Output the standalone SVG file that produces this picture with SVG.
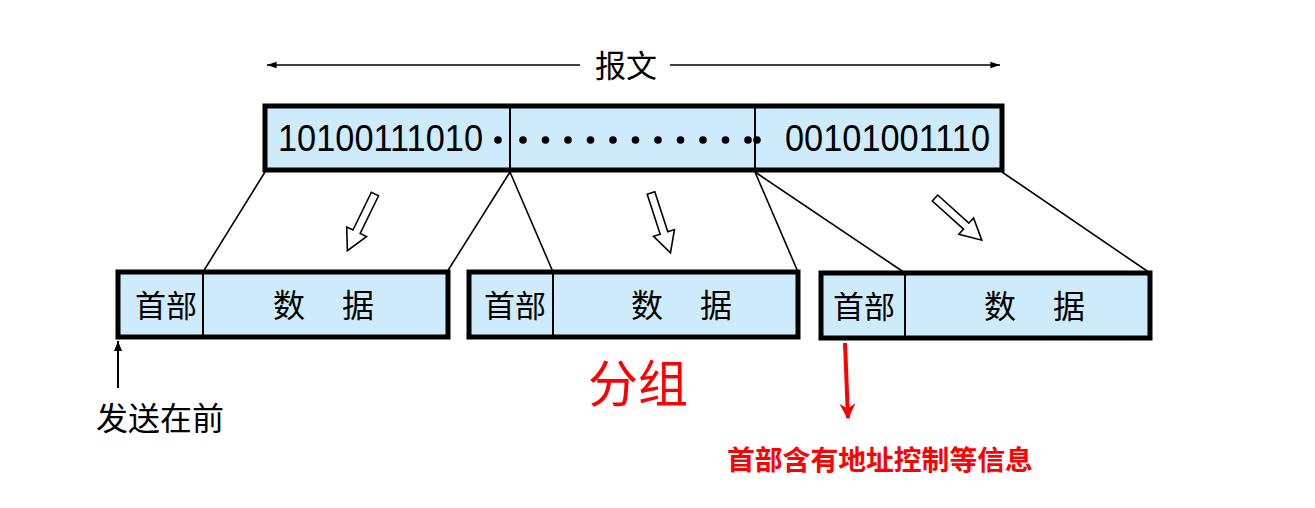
<svg xmlns="http://www.w3.org/2000/svg" width="1315" height="508" viewBox="0 0 1315 508">
<defs>
<style>
.box{fill:#CDEBFB;stroke:#000;stroke-width:5}
.div{stroke:#000;stroke-width:2;fill:none}
.ln{stroke:#000;stroke-width:1.6;fill:none}
.cjk{font-family:"Noto Sans CJK SC","Noto Sans",sans-serif;fill:#000}
.num{font-family:"Liberation Sans","Noto Sans",sans-serif;fill:#000}
.hollow{fill:#fff;stroke:#000;stroke-width:1.6;stroke-linejoin:miter}
</style>
<marker id="ah" viewBox="0 0 10 10" refX="10" refY="5" markerWidth="10" markerHeight="12" markerUnits="userSpaceOnUse" orient="auto-start-reverse"><path d="M0,1 L10,5 L0,9 Z" fill="#000"/></marker>
<marker id="ahs" viewBox="0 0 12 10" refX="12" refY="5" markerWidth="18" markerHeight="8" markerUnits="userSpaceOnUse" orient="auto-start-reverse"><path d="M0,1 L12,5 L0,9 Z" fill="#000"/></marker>
<marker id="ahr" viewBox="0 0 10 10" refX="9" refY="5" markerWidth="16" markerHeight="16" markerUnits="userSpaceOnUse" orient="auto"><path d="M0,0 L10,5 L0,10 L3,5 Z" fill="#f00"/></marker>
<path id="harrow" d="M0,-4 L42,-4 L42,-11 L63,0 L42,11 L42,4 L0,4 Z"/>
</defs>
<rect width="1315" height="508" fill="#fff"/>

<g id="message-span">
<line x1="267" y1="65" x2="580" y2="65" class="ln" marker-start="url(#ahs)"/>
<line x1="670" y1="65" x2="1000" y2="65" class="ln" marker-end="url(#ahs)"/>
<text x="626" y="77" class="cjk" font-size="31" text-anchor="middle">报文</text>
</g>

<g id="message">
<rect x="265" y="106" width="737" height="64" class="box"/>
<line x1="510" y1="106" x2="510" y2="170" class="div"/>
<line x1="755" y1="106" x2="755" y2="170" class="div"/>
<text x="278" y="151" class="num" font-size="37" textLength="205" lengthAdjust="spacingAndGlyphs">10100111010</text>
<text x="785" y="151" class="num" font-size="37" textLength="205" lengthAdjust="spacingAndGlyphs">00101001110</text>
<g fill="#000">
<circle cx="498" cy="140" r="3.8"/>
<circle cx="523" cy="140" r="3.8"/><circle cx="545.5" cy="140" r="3.8"/><circle cx="568" cy="140" r="3.8"/><circle cx="590.5" cy="140" r="3.8"/><circle cx="613" cy="140" r="3.8"/><circle cx="635.5" cy="140" r="3.8"/><circle cx="658" cy="140" r="3.8"/><circle cx="680.5" cy="140" r="3.8"/><circle cx="703" cy="140" r="3.8"/><circle cx="725.5" cy="140" r="3.8"/><circle cx="748" cy="140" r="3.8"/>
<circle cx="757" cy="140" r="3.8"/>
</g>
</g>

<g id="connectors">
<line x1="265" y1="172" x2="203" y2="272" class="ln"/>
<line x1="510" y1="172" x2="447" y2="272" class="ln"/>
<line x1="510" y1="172" x2="553" y2="272" class="ln"/>
<line x1="755" y1="172" x2="798" y2="272" class="ln"/>
<line x1="755" y1="172" x2="905" y2="273" class="ln"/>
<line x1="1002" y1="172" x2="1150" y2="273" class="ln"/>
<use href="#harrow" class="hollow" transform="translate(375,194) rotate(116)"/>
<use href="#harrow" class="hollow" transform="translate(651,193) rotate(72)"/>
<use href="#harrow" class="hollow" transform="translate(935,198) rotate(42)"/>
<line x1="118" y1="388" x2="118" y2="341" stroke="#000" stroke-width="2" marker-end="url(#ah)"/>
<line x1="845" y1="343" x2="848" y2="418" stroke="#f00" stroke-width="4" marker-end="url(#ahr)"/>
</g>

<g id="packet1">
<rect x="118" y="272" width="330" height="65" class="box"/>
<line x1="203" y1="272" x2="203" y2="337" class="div"/>
<text x="166" y="317" class="cjk" font-size="31" text-anchor="middle">首部</text>
<text x="289" y="317" class="cjk" font-size="32" text-anchor="middle">数</text>
<text x="358" y="317" class="cjk" font-size="32" text-anchor="middle">据</text>
</g>

<g id="packet2">
<rect x="469" y="272" width="329" height="65" class="box"/>
<line x1="553" y1="272" x2="553" y2="337" class="div"/>
<text x="515" y="317" class="cjk" font-size="31" text-anchor="middle">首部</text>
<text x="647" y="317" class="cjk" font-size="32" text-anchor="middle">数</text>
<text x="716" y="317" class="cjk" font-size="32" text-anchor="middle">据</text>
</g>

<g id="packet3">
<rect x="821" y="273" width="329" height="65" class="box"/>
<line x1="905" y1="273" x2="905" y2="338" class="div"/>
<text x="864" y="318" class="cjk" font-size="31" text-anchor="middle">首部</text>
<text x="1000" y="318" class="cjk" font-size="32" text-anchor="middle">数</text>
<text x="1069" y="318" class="cjk" font-size="32" text-anchor="middle">据</text>
</g>

<g id="labels">
<text x="96" y="430" class="cjk" font-size="32">发送在前</text>
<text x="588" y="402" class="cjk" font-size="50" style="fill:#f00">分组</text>
<text x="727" y="470" class="cjk" font-size="27.8" font-weight="bold" style="fill:#f00">首部含有地址控制等信息</text>
</g>
</svg>
